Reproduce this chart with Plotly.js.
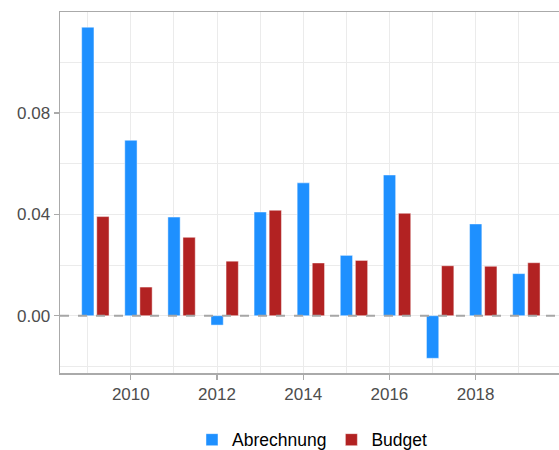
<!DOCTYPE html>
<html>
<head>
<meta charset="utf-8">
<script src="https://cdn.plot.ly/plotly-3.0.1.min.js"></script>
<style>html,body{margin:0;padding:0;background:#fff;}#chart{width:559px;height:450px;}</style>
</head>
<body>
<div id="chart"></div>
<script>
var years = [2009, 2010, 2011, 2012, 2013, 2014, 2015, 2016, 2017, 2018, 2019];
var abrechnung = [0.1138, 0.0692, 0.0389, -0.0037, 0.0409, 0.0524, 0.0238, 0.0555, -0.0168, 0.0362, 0.0166];
var budget = [0.0391, 0.0113, 0.0309, 0.0215, 0.0416, 0.0208, 0.0218, 0.0404, 0.0197, 0.0195, 0.0209];
var seriesNames = ["Abrechnung", "Budget"];
var yTickVals = [0, 0.04, 0.08];
var yTickText = ["0.00", "0.04", "0.08"];
var xTickVals = [2010, 2012, 2014, 2016, 2018];

var traces = [
  {type: 'bar', x: years, y: abrechnung, name: seriesNames[0], width: 0.285, offset: -0.14,
   marker: {color: '#1E90FF', line: {color: 'rgba(255,255,255,0.45)', width: 1}}},
  {type: 'bar', x: years, y: budget, name: seriesNames[1], width: 0.285, offset: 0.21,
   marker: {color: '#B22222', line: {color: 'rgba(255,255,255,0.45)', width: 1}}}
];

var layout = {
  width: 559, height: 450,
  margin: {l: 60, r: 0, t: 12, b: 77, autoexpand: false},
  paper_bgcolor: '#fff', plot_bgcolor: '#fff',
  barmode: 'overlay',
  font: {family: 'Liberation Sans, Arial, sans-serif', size: 17, color: '#4d4d4d'},
  showlegend: true,
  legend: {orientation: 'h', x: 0.505, xanchor: 'center', y: -0.185, yanchor: 'middle',
           font: {color: '#000', size: 17.5}, traceorder: 'normal'},
  xaxis: {
    range: [2008.357, 2019.935],
    tickmode: 'array', tickvals: xTickVals, ticktext: xTickVals.map(String),
    ticks: 'outside', ticklen: 5, tickcolor: '#aaaaaa', tickwidth: 1.2,
    showgrid: true, gridcolor: '#ebebeb', gridwidth: 1,
    minor: {dtick: 1, tick0: 2009, showgrid: true, gridcolor: '#ebebeb', gridwidth: 1, ticks: ''},
    showline: true, linecolor: '#aaaaaa', linewidth: 1.5, mirror: true,
    zeroline: false, fixedrange: true
  },
  yaxis: {
    range: [-0.0226, 0.1198],
    tickmode: 'array', tickvals: yTickVals, ticktext: yTickText,
    ticks: 'outside', ticklen: 5, tickcolor: '#aaaaaa', tickwidth: 1.2,
    showgrid: true, gridcolor: '#ebebeb', gridwidth: 1,
    minor: {dtick: 0.02, tick0: 0, showgrid: true, gridcolor: '#ebebeb', gridwidth: 1, ticks: ''},
    showline: true, linecolor: '#aaaaaa', linewidth: 1.5, mirror: false,
    zeroline: false, fixedrange: true
  },
  shapes: [{type: 'line', xref: 'paper', x0: 0, x1: 1, yref: 'y', y0: 0, y1: 0,
            line: {color: '#a6a6a6', width: 2, dash: 'dash'}, layer: 'above'}]
};

Plotly.newPlot('chart', traces, layout, {displayModeBar: false, staticPlot: true});
</script>
</body>
</html>
